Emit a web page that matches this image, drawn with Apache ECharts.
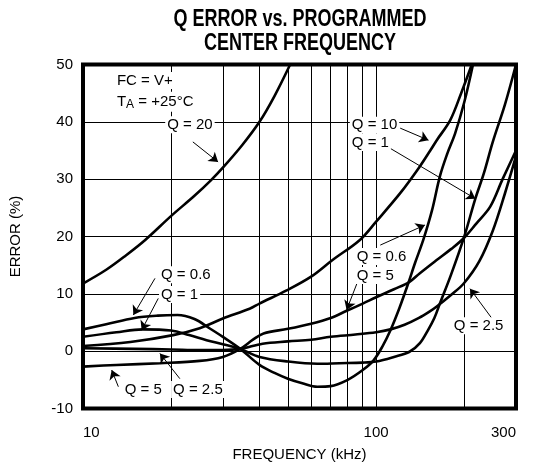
<!DOCTYPE html>
<html>
<head>
<meta charset="utf-8">
<title>Q Error vs. Programmed Center Frequency</title>
<script src="https://cdn.jsdelivr.net/npm/echarts@6/dist/echarts.min.js"></script>
<style>
  html, body { margin: 0; padding: 0; background: #fff; }
  #chart { width: 539px; height: 468px; }
</style>
</head>
<body>
<div id="chart"></div>
<script>
// frequency in kHz, error in %
const xLabels = [10, 100, 300]
const xGrid = [10, 20, 30, 40, 50, 60, 70, 80, 90, 100, 200, 300]

const freqQ20 = [10, 12, 14, 16.3, 20, 24, 27.3, 30, 35, 40, 45, 50.9]
const errQ20 = [11.8, 14.2, 16.7, 19.4, 23.6, 27.1, 29.8, 32.0, 36.0, 40, 44.5, 50]

const freqQ10 = [10, 14.5, 20.3, 25, 30, 37, 40, 49.5, 60, 71, 88, 100, 121, 140, 153, 161, 179, 195, 212]
const errQ10 = [0.9, 1.6, 2.8, 4.0, 5.7, 7.4, 8.3, 10.6, 13, 15.9, 19.4, 22.6, 27.6, 32, 35, 36.8, 40.3, 45, 50]

const freqQ5 = [10, 13, 18.3, 25, 30, 34.4, 38, 41.3, 50, 60, 70, 79, 90, 100, 115, 130, 141, 160, 180, 199, 220, 245, 270, 300]
const errQ5 = [-2.7, -2.4, -2.1, -1.7, -1.0, 0.4, 2.0, 3.1, 3.9, 4.8, 5.8, 7.0, 8.3, 9.4, 10.8, 12.1, 13.6, 15.8, 17.8, 19.7, 22.3, 25.2, 30, 35]

const freqQ25 = [10, 15, 20, 25, 30, 34.4, 41, 50, 60, 70, 85, 100, 112, 125, 140, 152, 161, 180, 199, 225, 250, 275, 300]
const errQ25 = [0.5, 0.4, 0.3, 0.2, 0.2, 0.4, 1.3, 1.7, 2.0, 2.5, 2.9, 3.3, 3.8, 4.6, 5.8, 6.9, 7.8, 9.8, 11.8, 15.7, 21, 27.5, 34]

const freqQ1 = [10, 13, 16, 20, 23, 26.4, 30, 34.4, 40, 50, 63, 75, 90, 100, 115, 130, 141, 150, 158, 165, 180, 199, 218, 233, 250, 275, 300]
const errQ1 = [2.5, 3.3, 3.8, 3.6, 2.8, 1.9, 1.2, 0.4, -1.0, -1.8, -2.2, -2.1, -2.0, -1.8, -1.0, -0.1, 1.4, 3.6, 5.8, 8.3, 13.3, 19.7, 26.6, 31, 36.5, 43, 50]

const freqQ06 = [10, 12, 15, 18, 21, 24, 27, 30, 34.4, 40, 45, 50, 56, 63, 70, 80, 90, 98, 105, 112, 120, 128, 136, 145, 155, 165, 175, 186, 200, 214]
const errQ06 = [3.8, 4.7, 5.8, 6.2, 6.3, 5.6, 4.0, 2.5, 0.4, -2.4, -3.8, -4.8, -5.6, -6.2, -6.1, -5.0, -3.3, -1.6, 0.8, 3.7, 7.5, 11.5, 15.5, 19.5, 24.5, 30.5, 34.5, 38, 43.5, 50]

// text notes: [text, freq, error] (left edge, vertical middle)
const notes = [
  ['FC = V+', 12.8, 47.2],
  ['{t|T}{s|A}{t| = +25°C}', 12.8, 43.5],
  ['Q = 20', 19.0, 39.5],
  ['Q = 0.6', 18.1, 13.35],
  ['Q = 1', 18.1, 9.9],
  ['Q = 5', 13.6, -6.7],
  ['Q = 2.5', 19.9, -6.7],
  ['Q = 10', 81, 39.4],
  ['Q = 1', 81, 36.4],
  ['Q = 0.6', 84.2, 16.5],
  ['Q = 5', 84.2, 13.2],
  ['Q = 2.5', 180.5, 4.45]
]

// arrows: [fromFreq, fromErr, toFreq, toErr]
const arrows = [
  [23.7, 36.5, 28.9, 33.0],
  [17.6, 12.7, 14.85, 6.3],
  [18.06, 9.2, 15.85, 3.66],
  [13.2, -6.2, 12.53, -3.3],
  [21.4, -4.8, 18.3, -0.4],
  [120.8, 38.9, 150.9, 36.8],
  [111.5, 35.4, 218, 26.6],
  [103.3, 18.5, 146.7, 22.0],
  [86, 11.8, 79.3, 7.2],
  [248.4, 5.7, 209, 10.9]
]

const FONT = '"Liberation Sans", Arial, sans-serif'
const SIZE = 15

function zip(xs, ys) {
  return xs.map((x, i) => [x, ys[i]])
}

function curve(name, xs, ys) {
  return {
    name: name,
    type: 'line',
    data: zip(xs, ys),
    smooth: 0.35,
    symbol: 'none',
    silent: true,
    z: 3,
    lineStyle: { color: '#000', width: 2.6 }
  }
}

const chart = echarts.init(document.getElementById('chart'))

const option = {
  animation: false,
  backgroundColor: '#fff',
  graphic: [
    {
      type: 'text',
      x: 300,
      y: 8,
      scaleX: 0.75,
      style: {
        text: 'Q ERROR vs. PROGRAMMED\nCENTER FREQUENCY',
        align: 'center',
        fill: '#000',
        font: 'bold 24px ' + FONT,
        lineHeight: 23.5
      }
    }
  ],
  grid: {
    left: 83,
    right: 23,
    top: 64.5,
    bottom: 59.5,
    show: true,
    borderColor: '#000',
    borderWidth: 4
  },
  xAxis: {
    type: 'log',
    logBase: 10,
    min: 10,
    max: 300,
    name: 'FREQUENCY (kHz)',
    nameLocation: 'middle',
    nameGap: 39,
    nameTextStyle: { color: '#000', fontSize: SIZE, fontFamily: FONT },
    axisLine: { show: false },
    axisTick: { show: false, customValues: xGrid },
    axisLabel: {
      customValues: xLabels,
      color: '#000',
      fontSize: SIZE,
      fontFamily: FONT,
      margin: 17,
      alignMinLabel: 'left',
      alignMaxLabel: 'right'
    },
    splitLine: { show: true, lineStyle: { color: '#000', width: 1 } }
  },
  yAxis: {
    type: 'value',
    min: -10,
    max: 50,
    interval: 10,
    name: 'ERROR (%)',
    nameLocation: 'middle',
    nameGap: 60,
    nameTextStyle: { color: '#000', fontSize: SIZE, fontFamily: FONT },
    axisLine: { show: false },
    axisTick: { show: false },
    axisLabel: { color: '#000', fontSize: SIZE, fontFamily: FONT, margin: 10 },
    splitLine: { show: true, lineStyle: { color: '#000', width: 1 } }
  },
  series: [
    curve('Q = 20', freqQ20, errQ20),
    curve('Q = 10', freqQ10, errQ10),
    curve('Q = 5', freqQ5, errQ5),
    curve('Q = 2.5', freqQ25, errQ25),
    curve('Q = 1', freqQ1, errQ1),
    curve('Q = 0.6', freqQ06, errQ06),
    {
      name: 'notes',
      type: 'line',
      data: [],
      z: 5,
      markLine: {
        silent: true,
        symbol: ['none', 'arrow'],
        symbolSize: 9,
        label: { show: false },
        lineStyle: { color: '#000', width: 1, type: 'solid' },
        data: arrows.map(a => [{ coord: [a[0], a[1]] }, { coord: [a[2], a[3]] }])
      },
      markPoint: {
        silent: true,
        symbol: 'circle',
        symbolSize: 1,
        itemStyle: { color: 'rgba(0,0,0,0)' },
        label: {
          show: true,
          position: 'right',
          distance: 0,
          color: '#000',
          fontSize: SIZE,
          fontFamily: FONT,
          backgroundColor: '#fff',
          padding: [1, 2],
          rich: {
            t: { fontSize: SIZE, fontFamily: FONT, color: '#000' },
            s: { fontSize: 12, fontFamily: FONT, color: '#000', padding: [6, 0, 0, 0] }
          }
        },
        data: notes.map(n => ({ coord: [n[1], n[2]], value: 0, label: { formatter: n[0] } }))
      }
    }
  ]
}

chart.setOption(option)
</script>
</body>
</html>
